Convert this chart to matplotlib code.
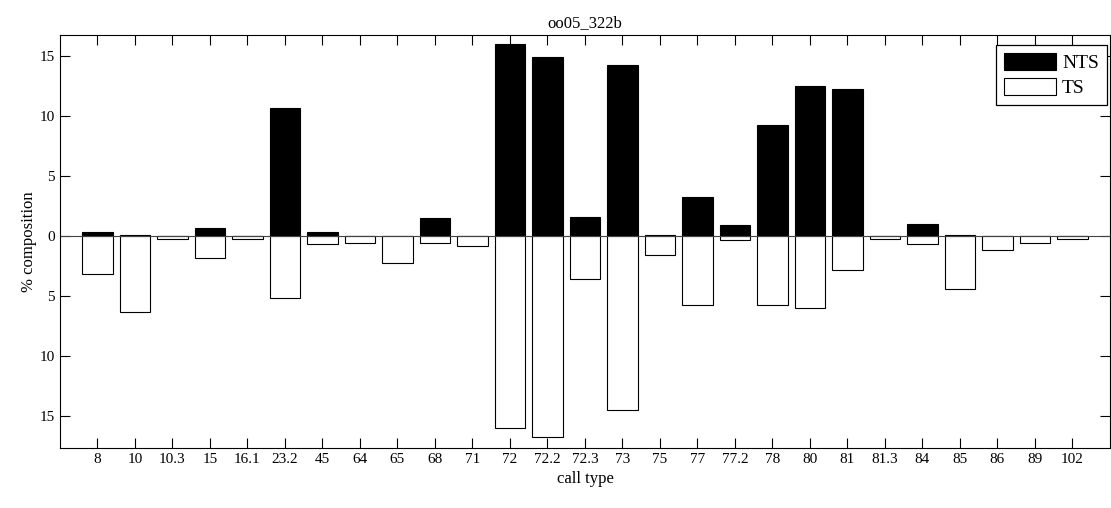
import matplotlib.pyplot as plt
import numpy as np

plt.rcParams['font.family'] = ['Liberation Serif', 'DejaVu Serif']

call_types = ['8', '10', '10.3', '15', '16.1', '23.2', '45', '64', '65', '68', '71',
              '72', '72.2', '72.3', '73', '75', '77', '77.2', '78', '80', '81', '81.3',
              '84', '85', '86', '89', '102']
nts = [0.37, 0.1, 0.0, 0.72, 0.0, 10.72, 0.37, 0.0, 0.0, 1.5, 0.0,
       16.0, 14.97, 1.61, 14.31, 0.1, 3.31, 0.92, 9.25, 12.5, 12.31, 0.0,
       1.03, 0.1, 0.0, 0.0, 0.0]
ts = [3.13, 6.3, 0.22, 1.8, 0.22, 5.13, 0.67, 0.55, 2.25, 0.55, 0.78,
      15.94, 16.72, 3.58, 14.5, 1.58, 5.72, 0.33, 5.72, 5.94, 2.8, 0.22,
      0.67, 4.39, 1.11, 0.55, 0.22]

x = np.arange(1, len(call_types) + 1)

fig = plt.figure(figsize=(11.11, 5.08), dpi=100)
ax = fig.add_axes([0.054, 0.118, 0.945, 0.813])

ax.bar(x, nts, width=0.82, color='black', edgecolor='black', linewidth=0.8, label='NTS')
ax.bar(x, -np.array(ts), width=0.82, color='white', edgecolor='black', linewidth=0.8, label='TS')
ax.axhline(0, color='#444444', linewidth=0.8)

ax.set_xlim(0, 28)
ax.set_ylim(-17.63, 16.78)
ax.set_xticks(x)
ax.set_xticklabels(call_types)
yt = [-15, -10, -5, 0, 5, 10, 15]
ax.set_yticks(yt)
ax.set_yticklabels([str(abs(v)) for v in yt])
ax.tick_params(direction='in', top=True, right=True, length=7, labelsize=11, width=0.8)
for s in ax.spines.values():
    s.set_linewidth(0.8)

ax.set_xlabel('call type', fontsize=12)
ax.set_ylabel('% composition', fontsize=12, labelpad=2)
ax.set_title('oo05_322b', fontsize=12)

leg = ax.legend(loc='upper right', bbox_to_anchor=(0.997, 0.976), borderaxespad=0,
                fontsize=14, fancybox=False, framealpha=1, edgecolor='black',
                handlelength=2.7, handleheight=1.0, labelspacing=0.3,
                handletextpad=0.3, borderpad=0.4)
leg.get_frame().set_linewidth(0.9)

fig.savefig('out.png', dpi=100)
